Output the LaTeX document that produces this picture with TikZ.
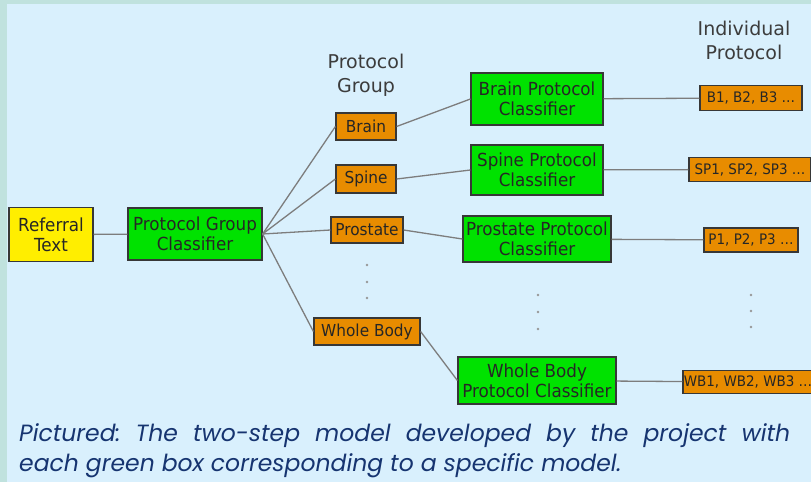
\documentclass[tikz,border=0pt]{standalone}
\usepackage{fontspec}
\setmainfont{DejaVu Sans}
\newfontfamily\boxfont{DejaVu Sans}[FakeStretch=0.93]
\newfontfamily\capfont{Poppins}
\definecolor{bgblue}{RGB}{217,240,253}
\definecolor{strip}{RGB}{192,226,222}
\definecolor{gbox}{RGB}{0,226,0}
\definecolor{obox}{RGB}{232,140,0}
\definecolor{ybox}{RGB}{255,238,0}
\definecolor{edge}{RGB}{55,55,55}
\definecolor{wire}{RGB}{125,125,125}
\definecolor{captxt}{RGB}{22,52,112}
\definecolor{hdr}{RGB}{60,60,60}
\tikzset{
  boxbase/.style={draw=edge, line width=1.2pt, inner sep=0pt, align=center, font=\boxfont\fontsize{18}{20}\selectfont, text=black!85},
  greenbox/.style={boxbase, fill=gbox},
  orangebox/.style={boxbase, fill=obox, font=\boxfont\fontsize{16.5}{18}\selectfont},
  yellowbox/.style={boxbase, fill=ybox},
  protbox/.style={boxbase, fill=obox, font=\boxfont\fontsize{14.5}{16}\selectfont},
  wirestyle/.style={draw=wire, line width=1.3pt},
  header/.style={align=center, text=hdr, font=\fontsize{19}{24}\selectfont},
  vdot/.style={circle, fill=wire!80, inner sep=0pt, minimum size=2.6pt},
  captext/.style={anchor=base west, inner sep=0pt, text=captxt, font=\capfont\itshape\frenchspacing\fontsize{23.5}{29}\selectfont}
}
\begin{document}
\begin{tikzpicture}[x=1pt,y=-1pt]
\fill[strip] (0,0) rectangle (811,482);
\fill[bgblue] (7,4) rectangle (811,482);
\useasboundingbox (0,0) rectangle (811,482);

\node[header] (hgroup) at (366,75) {Protocol\\Group};
\node[header] (hind) at (744,40) {Individual\\Protocol};

\node[yellowbox, minimum width=84pt, minimum height=54pt] (ref) at (51,234.5) {Referral\\Text};
\node[greenbox, minimum width=134pt, minimum height=52pt] (pgc) at (195,234) {Protocol Group\\Classifier};

\node[orangebox, minimum width=60pt, minimum height=27pt] (brain) at (366,126.5) {Brain};
\node[orangebox, minimum width=60pt, minimum height=28pt] (spine) at (366,179) {Spine};
\node[orangebox, minimum width=72pt, minimum height=26pt] (prost) at (367,230) {Prostate};
\node[orangebox, minimum width=106pt, minimum height=27pt] (wb) at (367,331.5) {Whole Body};

\node[greenbox, minimum width=132pt, minimum height=52pt] (bpc) at (537,99) {Brain Protocol\\Classifier};
\node[greenbox, minimum width=132pt, minimum height=50pt] (spc) at (537,170) {Spine Protocol\\Classifier};
\node[greenbox, minimum width=148pt, minimum height=46pt] (ppc) at (537,239) {Prostate Protocol\\Classifier};
\node[greenbox, minimum width=158pt, minimum height=47pt] (wbpc) at (537,380.5) {Whole Body\\Protocol Classifier};

\node[protbox, minimum width=102pt, minimum height=25pt] (bp) at (751,98) {B1, B2, B3 \dots};
\node[protbox, minimum width=122pt, minimum height=24pt] (spp) at (750,169.5) {SP1, SP2, SP3 \dots};
\node[protbox, minimum width=94pt, minimum height=24pt] (pp) at (751,240) {P1, P2, P3 \dots};
\node[protbox, minimum width=130pt, minimum height=23pt] (wbp) at (748,382) {WB1, WB2, WB3 \dots};

\draw[wirestyle] (ref) -- (pgc);
\draw[wirestyle] (pgc.east) -- (brain.west);
\draw[wirestyle] (pgc.east) -- (spine.west);
\draw[wirestyle] (pgc.east) -- (prost.west);
\draw[wirestyle] (pgc.east) -- (wb.west);
\draw[wirestyle] (brain.east) -- (bpc.west);
\draw[wirestyle] (spine.east) -- (spc.west);
\draw[wirestyle] (prost.east) -- (ppc.west);
\draw[wirestyle] (wb.east) -- (wbpc.west);
\draw[wirestyle] (bpc) -- (bp);
\draw[wirestyle] (spc) -- (spp);
\draw[wirestyle] (ppc) -- (pp);
\draw[wirestyle] (wbpc) -- (wbp);

\foreach \yy [count=\i] in {265,282,298} \node[vdot] (da\i) at (367,\yy) {};
\foreach \yy [count=\i] in {295,312,329} \node[vdot] (db\i) at (538,\yy) {};
\foreach \yy [count=\i] in {295,311,327} \node[vdot] (dc\i) at (751,\yy) {};

\node[captext] (cap1) at (19,441)
  {\makebox[771pt][s]{Pictured: The two-step model developed by the project with}};
\node[captext] (cap2) at (19,471)
  {each green box corresponding to a specific model.};
\end{tikzpicture}
\end{document}
